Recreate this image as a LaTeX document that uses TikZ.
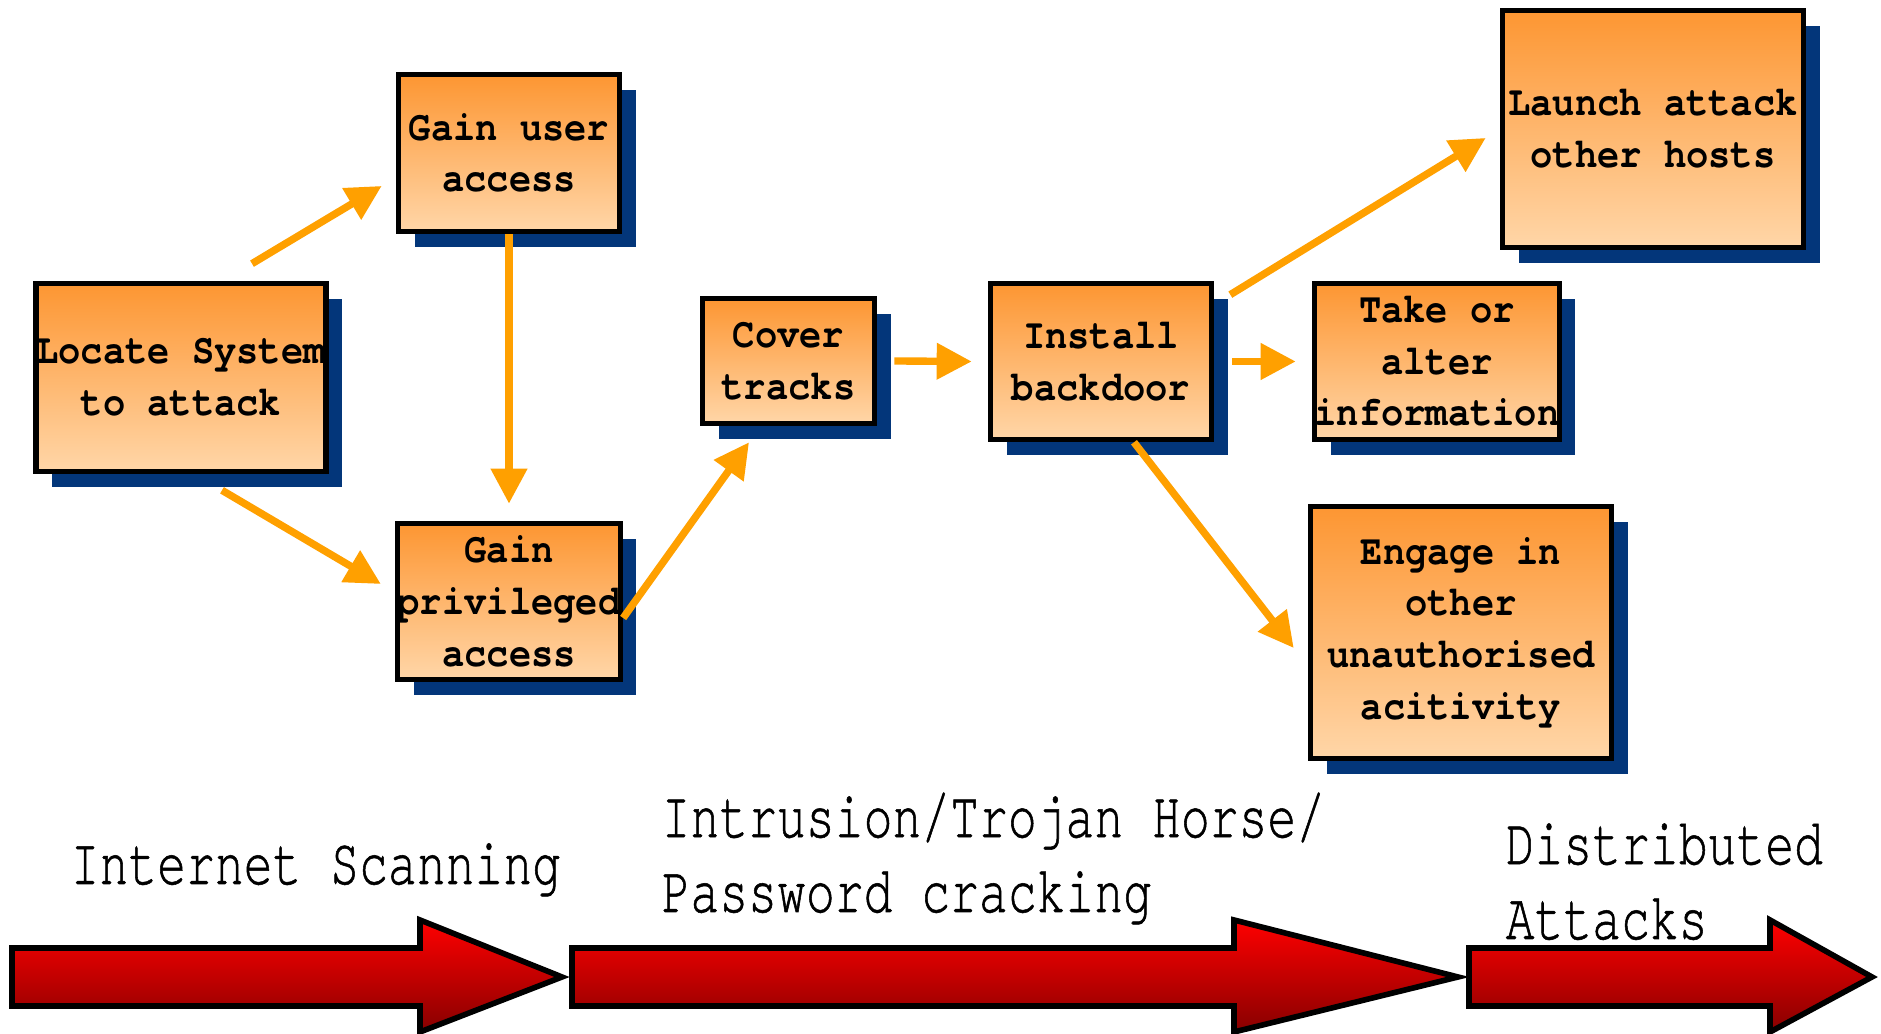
\documentclass[tikz,border=0pt]{standalone}
\usepackage{fontspec}
\usepackage{tikz}
\usetikzlibrary{arrows.meta,shadows}

\newfontfamily\boxfont[FakeStretch=0.88]{TeX Gyre Cursor}
\newfontfamily\phasefont[FakeStretch=0.72,FakeBold=0.8]{TeX Gyre Cursor}

\definecolor{flowcol}{RGB}{255,160,0}
\definecolor{boxtop}{RGB}{253,150,50}
\definecolor{boxbottom}{RGB}{255,214,168}
\definecolor{shadowblue}{RGB}{3,54,122}
\definecolor{phasetop}{RGB}{255,0,0}
\definecolor{phasebottom}{RGB}{135,0,0}

\begin{document}
\begin{tikzpicture}[
	stage/.style={draw=black, line width=1.6pt, top color=boxtop, bottom color=boxbottom,
		drop shadow={shadow xshift=.16cm, shadow yshift=-.16cm, fill=shadowblue, opacity=1},
		align=center, inner sep=0pt, font=\boxfont\bfseries\fontsize{12}{14.7}\selectfont},
	flow/.style={draw=flowcol, line width=2.1pt, -{Triangle[length=3.5mm,width=3.5mm]}},
	phase/.style={draw=black, line width=1.6pt, top color=phasetop, bottom color=phasebottom},
	phasetext/.style={anchor=base west, align=left, inner sep=0pt, font=\phasefont\fontsize{19}{21.3}\selectfont}]
	\useasboundingbox (0,0) rectangle (18.81,10.34);

	\node[stage, minimum width=2.69cm, minimum height=1.88cm] (locate) at (1.81,6.565) {Locate System\\to attack};
	\node[stage, minimum width=2.21cm, minimum height=1.57cm] (gainuser) at (5.09,8.81) {Gain user\\access};
	\node[stage, minimum width=2.21cm, minimum height=1.56cm] (gainpriv) at (5.09,4.325) {Gain\\privileged\\access};
	\node[stage, minimum width=1.72cm, minimum height=1.25cm] (cover) at (7.885,6.73) {Cover\\tracks};
	\node[stage, minimum width=2.21cm, minimum height=1.56cm] (install) at (11.01,6.725) {Install\\backdoor};
	\node[stage, minimum width=3.01cm, minimum height=2.37cm] (launch) at (16.53,9.05) {Launch attack\\other hosts};
	\node[stage, minimum width=2.21cm, minimum height=1.56cm] (take) at (14.37,6.725) {Take or\\alter\\information};
	\node[stage, minimum width=3.01cm, minimum height=2.52cm] (engage) at (14.61,4.015) {Engage in\\other\\unauthorised\\acitivity};

	\draw[flow] ([shift={(0.71,0.17)}]locate.north) -- ([shift={(-0.14,-0.33)}]gainuser.west);
	\draw[flow] ([shift={(0.41,-0.16)}]locate.south) -- ([shift={(-0.14,0.175)}]gainpriv.west);
	\draw[flow] (gainuser.south) -- ([yshift=0.17cm]gainpriv.north);
	\draw[flow] ([yshift=-0.165cm]gainpriv.east) -- ([shift={(-0.395,-0.16)}]cover.south);
	\draw[flow] ([xshift=0.17cm]cover.east) -- ([xshift=-0.16cm]install.west);
	\draw[flow] ([shift={(0.16,-0.14)}]install.north east) -- ([shift={(-0.14,-0.09)}]launch.west);
	\draw[flow] ([xshift=0.18cm]install.east) -- ([xshift=-0.16cm]take.west);
	\draw[flow] ([xshift=0.33cm]install.south) -- ([shift={(-0.14,-0.155)}]engage.west);

	\foreach \a/\b/\c in {0.12/4.20/5.62, 5.72/12.34/14.58, 14.69/17.70/18.72}
		\path[phase] (\a,0.28) -- (\b,0.28) -- (\b,0.02) -- (\c,0.57) -- (\b,1.14) -- (\b,0.86) -- (\a,0.86) -- cycle;

	\node[phasetext] (scanning) at (0.70,1.50) {Internet Scanning};
	\node[phasetext] (intrusion) at (6.61,1.22) {Intrusion/Trojan Horse/\\Password cracking};
	\node[phasetext] (distributed) at (15.05,0.95) {Distributed\\Attacks};
\end{tikzpicture}
\end{document}
